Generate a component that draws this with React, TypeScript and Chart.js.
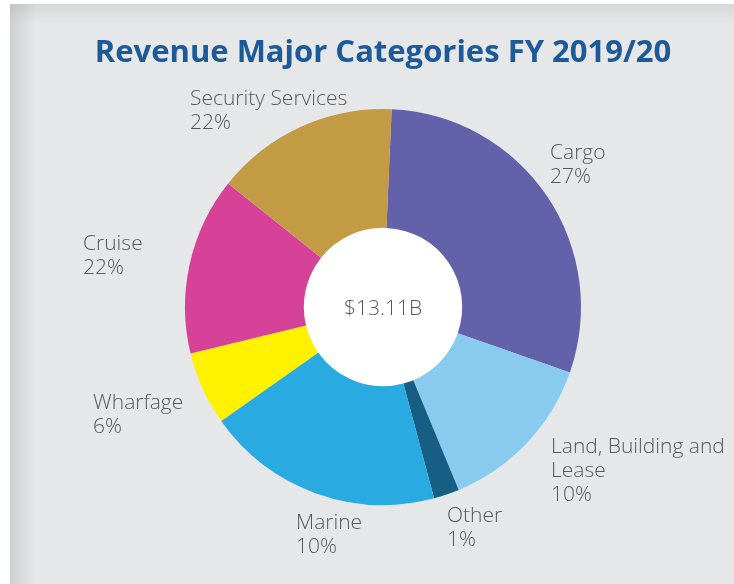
import React, { useEffect, useRef } from "react";
import { Chart, registerables } from "chart.js";

Chart.register(...registerables);

// ---- data ----
const categories = [
  "Cargo",
  "Land, Building and Lease",
  "Other",
  "Marine",
  "Wharfage",
  "Cruise",
  "Security Services",
];
// slice sizes (share of the ring, %), as drawn
const sliceValues = [29.7, 13.4, 2.1, 19.4, 6.0, 14.5, 15.0];
// percentages printed in the labels
const labelPercents = ["27%", "10%", "1%", "10%", "6%", "22%", "22%"];
// label text lines (name part)
const labelNames = [
  ["Cargo"],
  ["Land, Building and", "Lease"],
  ["Other"],
  ["Marine"],
  ["Wharfage"],
  ["Cruise"],
  ["Security Services"],
];
const centerText = "$13.11B";
const titleText = "Revenue Major Categories FY 2019/20";

// ---- styles / layout ----
const sliceColors = [
  "#6461ab",
  "#88cbee",
  "#165e84",
  "#29abe2",
  "#fff200",
  "#d64297",
  "#c39b45",
];
// label anchor offsets from the ring centre (first line baseline, left aligned)
const labelOffsets: [number, number][] = [
  [167, -148],
  [168, 146],
  [64, 215],
  [-87, 222],
  [-290, 102],
  [-300, -57],
  [-193, -202],
];
const TEXT_COLOR = "#58595b";
const LABEL_FONT = "300 21px 'Open Sans', Lato, sans-serif";
const LINE_H = 24;

const overlayPlugin = {
  id: "overlay",
  beforeDatasetsDraw(chart: any) {
    const meta = chart.getDatasetMeta(0);
    const arc = meta.data[0];
    if (!arc) return;
    const { x, y, innerRadius } = arc.getProps(["x", "y", "innerRadius"], true);
    const ctx = chart.ctx;
    ctx.save();
    ctx.beginPath();
    ctx.arc(x, y, innerRadius, 0, Math.PI * 2);
    ctx.fillStyle = "#ffffff";
    ctx.fill();
    ctx.restore();
  },
  afterDraw(chart: any) {
    const meta = chart.getDatasetMeta(0);
    const arc0 = meta.data[0];
    if (!arc0) return;
    const { x, y } = arc0.getProps(["x", "y"], true);
    const ctx = chart.ctx;
    ctx.save();
    ctx.fillStyle = TEXT_COLOR;
    ctx.font = LABEL_FONT;
    ctx.textAlign = "center";
    ctx.textBaseline = "alphabetic";
    ctx.fillText(centerText, x, y + 8);
    ctx.textAlign = "left";
    categories.forEach((_, i) => {
      const [dx, dy] = labelOffsets[i];
      const lines = [...labelNames[i], labelPercents[i]];
      lines.forEach((ln, j) => {
        ctx.fillText(ln, x + dx, y + dy + j * LINE_H);
      });
    });
    ctx.restore();
  },
};

export default function App() {
  const ref = useRef<HTMLCanvasElement | null>(null);

  useEffect(() => {
    document.body.style.margin = "0";
    const canvas = ref.current;
    if (!canvas) return;
    const chart = new Chart(canvas, {
      type: "doughnut",
      data: {
        labels: categories,
        datasets: [
          {
            data: sliceValues,
            backgroundColor: sliceColors,
            borderWidth: 0,
            hoverOffset: 0,
          },
        ],
      },
      options: {
        responsive: false,
        animation: false,
        rotation: 2.5,
        cutout: "40%",
        layout: { padding: { top: 0, bottom: 79, left: 32, right: 0 } },
        plugins: {
          legend: { display: false },
          tooltip: { enabled: false },
          title: {
            display: true,
            text: titleText,
            color: "#1d5a98",
            font: { family: "'Open Sans'", size: 31, weight: "bold", lineHeight: 1.2 },
            padding: { top: 34.5, bottom: 37.3 },
          },
        },
      },
      plugins: [overlayPlugin],
    });
    return () => chart.destroy();
  }, []);

  return (
    <div style={{ position: "relative", width: 734, height: 584, background: "#ffffff", overflow: "hidden" }}>
      <div
        style={{
          position: "absolute",
          left: 10,
          top: 4,
          right: 0,
          bottom: 0,
          background:
            "linear-gradient(to right, rgba(0,0,0,0.10), rgba(0,0,0,0) 26px), linear-gradient(to bottom, rgba(0,0,0,0.07), rgba(0,0,0,0) 20px), #e6e7e9",
        }}
      />
      <canvas
        ref={ref}
        width={734}
        height={584}
        style={{ position: "absolute", left: 0, top: 0, width: 734, height: 584 }}
      />
    </div>
  );
}
